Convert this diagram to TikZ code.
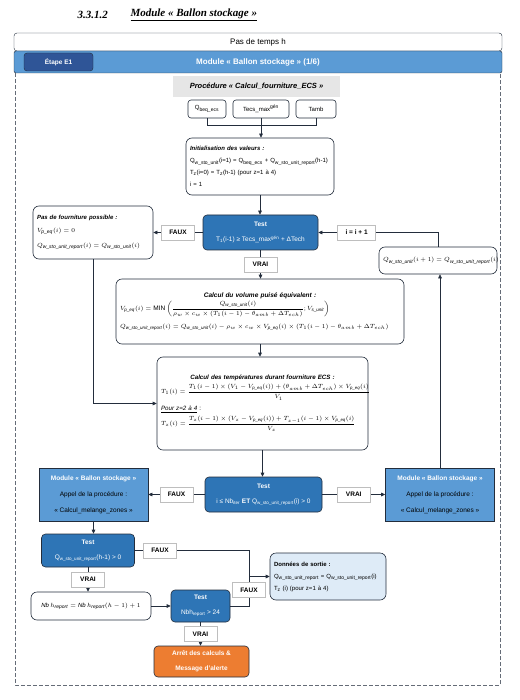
\documentclass[tikz,border=0pt]{standalone}
\usepackage{amsmath}
\usepackage{fontspec}
\setmainfont{Liberation Sans}
\newfontfamily\seriffont{Liberation Serif}
\usetikzlibrary{arrows.meta, positioning, calc}
\definecolor{bsdark}{RGB}{35,45,60}
\definecolor{bsmod}{RGB}{91,155,213}
\definecolor{bstest}{RGB}{46,117,182}
\definecolor{bsetape}{RGB}{47,85,151}
\definecolor{bsorange}{RGB}{237,125,49}
\definecolor{bslight}{RGB}{222,235,247}
\definecolor{bsproc}{RGB}{230,230,230}
\definecolor{bslbl}{RGB}{190,190,190}

% indices (texte et maths)
\newcommand{\wsu}{w\_sto\_unit}
\newcommand{\wsur}{w\_sto\_unit\_report}
\newcommand{\mwsu}{\mathit{w\_sto\_unit}}
\newcommand{\mwsur}{\mathit{w\_sto\_unit\_report}}
\newcommand{\mpeq}{\mathit{p\_eq}}

\tikzset{
  box/.style={draw=bsdark, fill=white, rounded corners=6pt, align=left,
    font=\fontsize{6}{12}\selectfont, inner xsep=4pt, line width=0.6pt},
  testbox/.style={draw=bsdark, fill=bstest, rounded corners=4pt, text=white,
    align=center, font=\fontsize{6.5}{15}\selectfont, line width=0.6pt},
  modbox/.style={draw=bsdark, fill=bsmod, align=center, minimum width=109pt,
    minimum height=53pt, font=\fontsize{6.5}{16}\selectfont, line width=0.6pt},
  inbox/.style={draw=bsdark, rounded corners=3pt, minimum height=18pt,
    font=\fontsize{6}{8}\selectfont, line width=0.6pt},
  lbl/.style={draw=bslbl, fill=white, minimum width=33pt, minimum height=15pt,
    font=\fontsize{6.5}{8}\selectfont\bfseries, inner xsep=3pt},
  conn/.style={draw=bsdark, line width=0.6pt},
  titre/.style={font=\seriffont\bfseries\itshape\fontsize{11}{13}\selectfont}
}

\begin{document}
\begin{tikzpicture}[x=1pt, y=-1pt, >={Triangle[length=4pt,width=3.6pt]}]
\useasboundingbox (0,0) rectangle (519,700);

% titre
\node[titre, anchor=west] (num) at (74,15) {3.3.1.2};
\node[titre, anchor=west] (titre) at (127,15) {\underline{Module « Ballon stockage »}};

% en-tete
\node[draw=bsdark, fill=white, rounded corners=3pt, minimum width=488pt, minimum height=18pt,
  font=\fontsize{8}{10}\selectfont] (pas) at (258,42) {Pas de temps h};
\node[draw=bsdark, fill=bsmod, rounded corners=2pt, minimum width=488pt, minimum height=22pt,
  text=white, font=\fontsize{8}{10}\selectfont\bfseries] (barre) at (258,62)
  {Module « Ballon stockage » (1/6)};
\node[draw=bsdark, fill=bsetape, rounded corners=3pt, minimum width=69pt, minimum height=18pt,
  text=white, font=\fontsize{6.5}{8}\selectfont\bfseries] (etape) at (58.5,62) {Étape E1};
\draw[bsdark!70, line width=0.7pt, dash pattern=on 4pt off 2pt]
  (15,73) -- (15,685) -- (500,685) -- (500,73);

% ---- procedure et entrees ----
\node[fill=bsproc, minimum width=167pt, minimum height=21pt,
  font=\fontsize{7.5}{9}\selectfont\bfseries\itshape] (proc) at (256.5,86.5)
  {Procédure « Calcul\_fourniture\_ECS »};
\node[inbox, minimum width=38pt] (qbeq) at (207,109) {Q\textsubscript{beq\_ecs}};
\node[inbox, minimum width=56pt] (tecs) at (261,109) {Tecs\_max\textsuperscript{gén}};
\node[inbox, minimum width=40pt] (tamb) at (316,109) {Tamb};

\node[box, text width=140pt, minimum height=57pt] (init) at (260,166.5) {%
  \textbf{\textit{Initialisation des valeurs :}}\\
  Q\textsubscript{\wsu}(i=1) = Q\textsubscript{beq\_ecs} + Q\textsubscript{\wsur}(h-1)\\
  T\textsubscript{z}(i=0) = T\textsubscript{z}(h-1) (pour z=1 à 4)\\
  i = 1};
\draw[conn] (qbeq.south) -- ++(0,7) -| (tamb.south);
\draw[conn, ->] (tecs.south) -- (tecs.south |- init.north);

% ---- test sur la temperature ----
\node[testbox, minimum width=115pt, minimum height=35pt] (test1) at (260.5,232.5)
  {\textbf{Test}\\T\textsubscript{1}(i-1) ≥ Tecs\_max\textsuperscript{gén} + ΔTech};
\draw[conn, ->] (init.south) -- (init.south |- test1.north);

\node[box, text width=112pt, minimum height=53pt] (pasf) at (93,232.5) {%
  \textbf{\textit{Pas de fourniture possible :}}\\[1pt]
  \mbox{$V_{\mpeq}(i) = 0$}\\[3pt]
  \mbox{$Q_{\mwsur}(i) = Q_{\mwsu}(i)$}};
\draw[conn, ->] (test1.west) -- node[lbl]{FAUX} (test1.west -| pasf.east);

\node[box, text width=280pt, minimum height=65pt, font=\fontsize{6.5}{12}\selectfont]
  (vol) at (260,311.5) {%
  {\centering\textbf{\textit{Calcul du volume puisé équivalent :}}\par}
  \vspace{1pt}
  \mbox{$V_{\mpeq}(i) = \mathrm{MIN}\left(\displaystyle\frac{Q_{\mwsu}(i)}{\rho_w \times c_w \times
    (T_1(i-1) - \theta_{amb} + \Delta T_{ech})} ; V_{\mathit{s\_unit}}\right)$}\\[6pt]
  \mbox{$Q_{\mwsur}(i) = Q_{\mwsu}(i) - \rho_w \times c_w \times V_{\mpeq}(i) \times
    (T_1(i-1) - \theta_{amb} + \Delta T_{ech})$}};
\draw[conn, ->] (test1.south) -- node[lbl]{VRAI} (test1.south |- vol.north);

\node[box, text width=203pt, minimum height=93pt, font=\fontsize{6.2}{12}\selectfont]
  (temps) at (262.5,403.5) {%
  {\centering\textbf{\textit{Calcul des températures durant fourniture ECS :}}\par}
  \vspace{2pt}
  \mbox{$T_1(i) = \displaystyle\frac{T_1(i-1) \times (V_1 - V_{\mpeq}(i)) +
    (\theta_{amb} + \Delta T_{ech}) \times V_{\mpeq}(i)}{V_1}$}\\[5pt]
  \underline{\textit{Pour z=2 à 4}} :\\[3pt]
  \mbox{$T_z(i) = \displaystyle\frac{T_z(i-1) \times (V_z - V_{\mpeq}(i)) +
    T_{z-1}(i-1) \times V_{\mpeq}(i)}{V_z}$}};
\draw[conn, ->] (vol.south) -- (vol.south |- temps.north);
\draw[conn, ->] (pasf.south) |- (temps.west);

% ---- test sur les iterations ----
\node[testbox, minimum width=117pt, minimum height=35pt] (test2) at (263.5,494.5)
  {\textbf{Test}\\i ≤ Nb\textsubscript{iter} \textbf{ET} Q\textsubscript{\wsur}(i) > 0};
\draw[conn, ->] (temps.south) -- (temps.south |- test2.north);

\node[modbox] (modg) at (93.5,494.5)
  {\textcolor{white}{\textbf{Module « Ballon stockage »}}\\Appel de la procédure :\\« Calcul\_melange\_zones »};
\node[modbox] (modd) at (440,494.5)
  {\textcolor{white}{\textbf{Module « Ballon stockage »}}\\Appel de la procédure :\\« Calcul\_melange\_zones »};
\draw[conn, ->] (test2.west) -- node[lbl]{FAUX} (modg.east);
\draw[conn, ->] (test2.east) -- node[lbl]{VRAI} (modd.west);

\node[box, text width=110pt, minimum height=27pt] (report) at (438,260.5)
  {\mbox{$Q_{\mwsu}(i+1) = Q_{\mwsur}(i)$}};
\draw[conn, ->] (modd.north) -- (modd.north |- report.south);
\draw[conn, ->] (report.north) |- node[lbl, pos=0.84, minimum width=38pt]{i = i + 1} (test1.east);

% ---- report et alerte ----
\node[testbox, minimum width=93pt, minimum height=33pt] (test3) at (88,550.5)
  {\textbf{Test}\\Q\textsubscript{\wsur}(h-1) > 0};
\draw[conn, ->] (modg.south) -- (modg.south |- test3.north);

\node[box, minimum width=120pt, minimum height=28pt, align=center] (nb) at (91,606)
  {$\mathit{Nb}\,h_{\mathit{report}} = \mathit{Nb}\,h_{\mathit{report}}(h-1) + 1$};
\draw[conn, ->] (test3.south) -- node[lbl]{VRAI} (test3.south |- nb.north);

\node[testbox, minimum width=59pt, minimum height=32pt] (test4) at (200.5,606)
  {\textbf{Test}\\Nbh\textsubscript{report} > 24};
\draw[conn, ->] (nb.east) -- (test4.west);

\node[testbox, fill=bsorange, minimum width=95pt, minimum height=31pt,
  font=\fontsize{6.5}{15}\selectfont\bfseries] (alerte) at (201.5,661.5)
  {Arrêt des calculs \&\\Message d'alerte};
\draw[conn, ->] (test4.south) -- node[lbl]{VRAI} (test4.south |- alerte.north);

\node[box, fill=bslight, text width=108pt, minimum height=47pt] (sortie) at (328,576.5) {%
  \textbf{Données de sortie :}\\
  Q\textsubscript{\wsur} = Q\textsubscript{\wsur}(i)\\
  T\textsubscript{z} (i) (pour z=1 à 4)};
\coordinate (fusion) at (249,576.5);
\draw[conn] (test3.east) -| node[lbl, pos=0.11]{FAUX} (fusion);
\draw[conn] (test4.east) -| node[lbl, pos=0.77]{FAUX} (fusion);
\draw[conn, ->] (fusion) -- (sortie.west);
\end{tikzpicture}
\end{document}
